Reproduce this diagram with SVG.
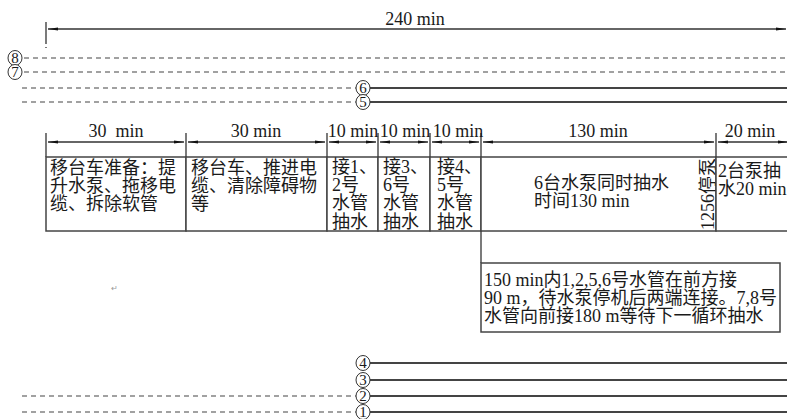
<svg xmlns="http://www.w3.org/2000/svg" width="787" height="419" viewBox="0 0 787 419">
<style>
text{font-family:"Liberation Serif","Noto Sans CJK SC",serif;fill:#1a1a1a}
.dim{font-size:18px;text-anchor:middle}
.cn{font-size:18px}
.num{font-size:15px;text-anchor:middle}
.ln{stroke:#333;stroke-width:1.3;fill:none}
.sol{stroke:#444;stroke-width:1.8;fill:none}
.dash{stroke:#444;stroke-width:1.2;stroke-dasharray:5 4;fill:none}
.box{stroke:#444;stroke-width:1.5;fill:#fff}
.circ{stroke:#333;stroke-width:1;fill:#fff}
</style>
<defs>
<marker id="ah" viewBox="0 0 10 4" refX="10" refY="2" markerWidth="10" markerHeight="4" markerUnits="userSpaceOnUse" orient="auto-start-reverse">
<path d="M0,0.6 L10,2 L0,3.4 Z" fill="#111"/>
</marker>
</defs>

<g id="connectors">
<!-- top dimension -->
<line class="ln" x1="46" y1="22" x2="46" y2="44"/>
<line class="ln" x1="46" y1="47" x2="46" y2="48"/>
<line class="ln" x1="48" y1="29" x2="786" y2="29" marker-start="url(#ah)" marker-end="url(#ah)"/>
<!-- pipe lines 8,7 -->
<line class="dash" x1="24" y1="58" x2="787" y2="58"/>
<line class="dash" x1="24" y1="72" x2="787" y2="72"/>
<!-- 6,5 -->
<line class="dash" x1="22" y1="88" x2="356" y2="88"/>
<line class="sol" x1="370" y1="88" x2="787" y2="88"/>
<line class="dash" x1="22" y1="102" x2="356" y2="102"/>
<line class="sol" x1="370" y1="102" x2="787" y2="102"/>
<!-- 4,3,2,1 -->
<line class="sol" x1="370" y1="363" x2="787" y2="363"/>
<line class="sol" x1="370" y1="380" x2="787" y2="380"/>
<line class="dash" x1="22" y1="396" x2="356" y2="396"/>
<line class="sol" x1="370" y1="396" x2="787" y2="396"/>
<line class="dash" x1="22" y1="412" x2="356" y2="412"/>
<line class="sol" x1="370" y1="412" x2="787" y2="412"/>
<!-- segment dimension ticks -->
<line class="ln" x1="46" y1="133" x2="46" y2="157"/>
<line class="ln" x1="186" y1="133" x2="186" y2="157"/>
<line class="ln" x1="327" y1="133" x2="327" y2="157"/>
<line class="ln" x1="378" y1="133" x2="378" y2="157"/>
<line class="ln" x1="430" y1="133" x2="430" y2="157"/>
<line class="ln" x1="481" y1="133" x2="481" y2="157"/>
<line class="ln" x1="716" y1="133" x2="716" y2="157"/>
<!-- segment dimension lines -->
<line class="ln" x1="48" y1="142" x2="184" y2="142" marker-start="url(#ah)" marker-end="url(#ah)"/>
<line class="ln" x1="188" y1="142" x2="325" y2="142" marker-start="url(#ah)" marker-end="url(#ah)"/>
<line class="ln" x1="329" y1="142" x2="376" y2="142" marker-start="url(#ah)" marker-end="url(#ah)"/>
<line class="ln" x1="380" y1="142" x2="428" y2="142" marker-start="url(#ah)" marker-end="url(#ah)"/>
<line class="ln" x1="432" y1="142" x2="479" y2="142" marker-start="url(#ah)" marker-end="url(#ah)"/>
<line class="ln" x1="483" y1="142" x2="714" y2="142" marker-start="url(#ah)" marker-end="url(#ah)"/>
<line class="ln" x1="718" y1="142" x2="788" y2="142" marker-start="url(#ah)" marker-end="url(#ah)"/>
<!-- link to note -->
<line class="ln" x1="481" y1="231" x2="481" y2="263"/>
</g>

<g id="labels-dim">
<text class="dim" x="415" y="25">240 min</text>
<text class="dim" x="116" y="137" xml:space="preserve">30  min</text>
<text class="dim" x="256" y="137">30 min</text>
<text class="dim" x="353" y="137">10 min</text>
<text class="dim" x="405" y="137">10 min</text>
<text class="dim" x="458" y="137">10 min</text>
<text class="dim" x="598" y="137">130 min</text>
<text class="dim" x="750" y="137">20 min</text>
</g>

<g id="pipe-markers">
<g id="p8"><ellipse class="circ" cx="15" cy="58" rx="7" ry="7.5"/><text class="num" x="15" y="63">8</text></g>
<g id="p7"><ellipse class="circ" cx="15" cy="72" rx="7" ry="7.5"/><text class="num" x="15" y="77">7</text></g>
<g id="p6"><ellipse class="circ" cx="363" cy="88" rx="7" ry="7.5"/><text class="num" x="363" y="93">6</text></g>
<g id="p5"><ellipse class="circ" cx="363" cy="102" rx="7" ry="7.5"/><text class="num" x="363" y="107">5</text></g>
<g id="p4"><ellipse class="circ" cx="363" cy="363" rx="7" ry="7.5"/><text class="num" x="363" y="368">4</text></g>
<g id="p3"><ellipse class="circ" cx="363" cy="380" rx="7" ry="7.5"/><text class="num" x="363" y="385">3</text></g>
<g id="p2"><ellipse class="circ" cx="363" cy="396" rx="7" ry="7.5"/><text class="num" x="363" y="401">2</text></g>
<g id="p1"><ellipse class="circ" cx="363" cy="412" rx="7" ry="7.5"/><text class="num" x="363" y="417">1</text></g>
</g>

<g id="step1">
<rect class="box" x="46" y="157" width="140" height="74"/>
<text class="cn" x="50" y="174">移台车准备：提</text>
<text class="cn" x="50" y="192">升水泵、拖移电</text>
<text class="cn" x="50" y="210">缆、拆除软管</text>
</g>
<g id="step2">
<rect class="box" x="186" y="157" width="141" height="74"/>
<text class="cn" x="191" y="174">移台车、推进电</text>
<text class="cn" x="191" y="192">缆、清除障碍物</text>
<text class="cn" x="191" y="210">等</text>
</g>
<g id="step3">
<rect class="box" x="327" y="157" width="51" height="74"/>
<text class="cn" x="332" y="173">接1、</text>
<text class="cn" x="332" y="191">2号</text>
<text class="cn" x="332" y="209">水管</text>
<text class="cn" x="332" y="228">抽水</text>
</g>
<g id="step4">
<rect class="box" x="378" y="157" width="52" height="74"/>
<text class="cn" x="383" y="173">接3、</text>
<text class="cn" x="383" y="191">6号</text>
<text class="cn" x="383" y="209">水管</text>
<text class="cn" x="383" y="228">抽水</text>
</g>
<g id="step5">
<rect class="box" x="430" y="157" width="51" height="74"/>
<text class="cn" x="437" y="173">接4、</text>
<text class="cn" x="437" y="191">5号</text>
<text class="cn" x="437" y="209">水管</text>
<text class="cn" x="437" y="228">抽水</text>
</g>
<g id="step6">
<rect class="box" x="481" y="157" width="235" height="74"/>
<text class="cn" x="534" y="189">6台水泵同时抽水</text>
<text class="cn" x="534" y="207">时间130 min</text>
<text class="cn" transform="translate(714,230) rotate(-90)">1256停泵</text>
</g>
<g id="step7">
<rect class="box" x="716" y="157" width="80" height="74"/>
<text class="cn" x="718" y="177">2台泵抽</text>
<text class="cn" x="718" y="195">水20 min</text>
</g>
<g id="note">
<rect class="box" x="481" y="263" width="299" height="69"/>
<text class="cn" x="484" y="286">150 min内1,2,5,6号水管在前方接</text>
<text class="cn" x="484" y="304">90 m，待水泵停机后两端连接。7,8号</text>
<text class="cn" x="484" y="322">水管向前接180 m等待下一循环抽水</text>
</g>
<text x="111" y="291" style="font-size:8px;fill:#999">↵</text>
</svg>
